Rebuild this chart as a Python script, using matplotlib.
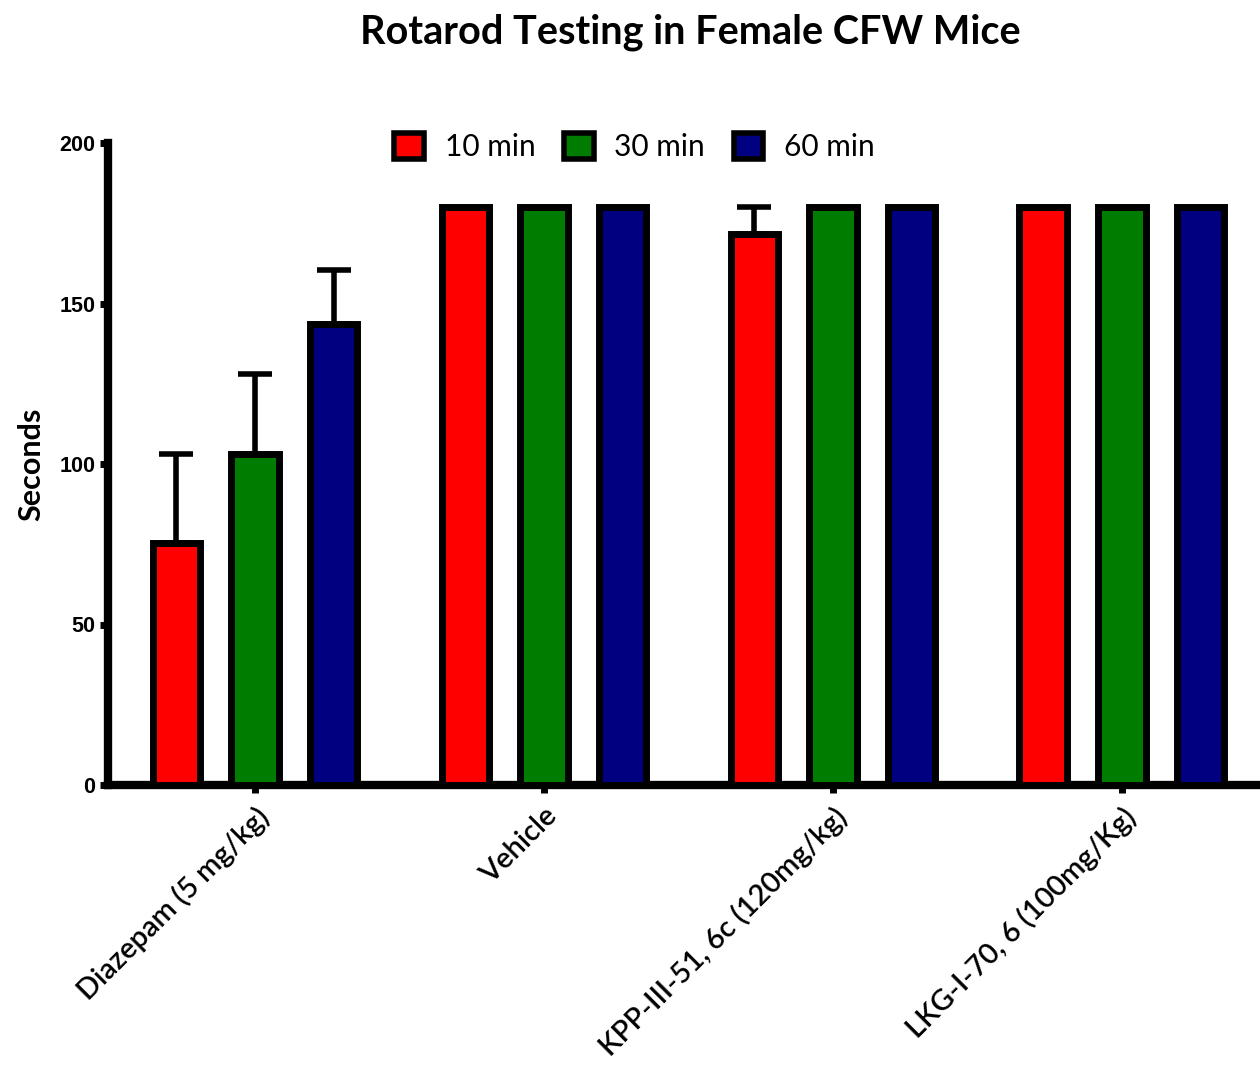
import matplotlib
matplotlib.use("Agg")
import matplotlib.pyplot as plt
import numpy as np

categories = ["Diazepam (5 mg/kg)", "Vehicle", "KPP-III-51, 6c (120mg/kg)", "LKG-I-70, 6 (100mg/Kg)"]
series = ["10 min", "30 min", "60 min"]
values_10 = [75.5, 180, 171.5, 180]
values_30 = [103, 180, 180, 180]
values_60 = [143.5, 180, 180, 180]
err_10 = [27.5, 0, 8.5, 0]
err_30 = [25, 0, 0, 0]
err_60 = [17, 0, 0, 0]
colors = ["#ff0000", "#007d00", "#000080"]
yticks = [0, 50, 100, 150, 200]

fig = plt.figure(figsize=(12.6, 10.68), dpi=100)
ax = fig.add_axes([108/1260, 1 - 785/1068, (1260-108)/1260, (785-143)/1068])

x = np.arange(len(categories))
offs = [-0.272, 0, 0.272]
width = 0.165
allv = [values_10, values_30, values_60]
alle = [err_10, err_30, err_60]
for i in range(3):
    ax.bar(x + offs[i], allv[i], width=width, color=colors[i], edgecolor="black",
           linewidth=5, label=series[i], zorder=3)
    e = np.array(alle[i])
    m = e > 0
    ax.errorbar((x + offs[i])[m], np.array(allv[i])[m], yerr=[np.zeros(m.sum()), e[m]],
                fmt="none", ecolor="black", elinewidth=4, capsize=12, capthick=4, zorder=2)

ax.set_xlim(-0.509, 3.478)
ax.set_ylim(0, 200)
ax.set_yticks(yticks)
ax.set_yticklabels([str(t) for t in yticks], fontsize=15.5, fontweight="bold", family="Liberation Sans")
ax.set_xticks(x)
ax.set_xticklabels(categories, rotation=45, ha="right", rotation_mode="anchor",
                   fontsize=21, family="Lato", fontweight="semibold")
for s in ["top", "right"]:
    ax.spines[s].set_visible(False)
ax.spines["left"].set_linewidth(6)
ax.spines["bottom"].set_linewidth(6)
ax.spines["left"].set_bounds(0, 200)
ax.tick_params(axis="both", width=5, length=6, pad=3)
ax.tick_params(axis="x", pad=7)
ax.set_ylabel("Seconds", fontsize=22, fontweight="bold", family="Lato", labelpad=10)

leg = ax.legend(loc="upper center", bbox_to_anchor=(0.457, 1.058), ncol=3, frameon=False,
                prop={"family": "Lato", "size": 21.5}, handlelength=1.0, handleheight=1.0,
                columnspacing=0.95, handletextpad=0.7)
for h in leg.legend_handles:
    h.set_linewidth(4)

fig.text(0.548, 0.97, "Rotarod Testing in Female CFW Mice", ha="center", va="center",
         fontsize=28.5, fontweight="bold", family="Lato")

fig.savefig("out.png", dpi=100)
